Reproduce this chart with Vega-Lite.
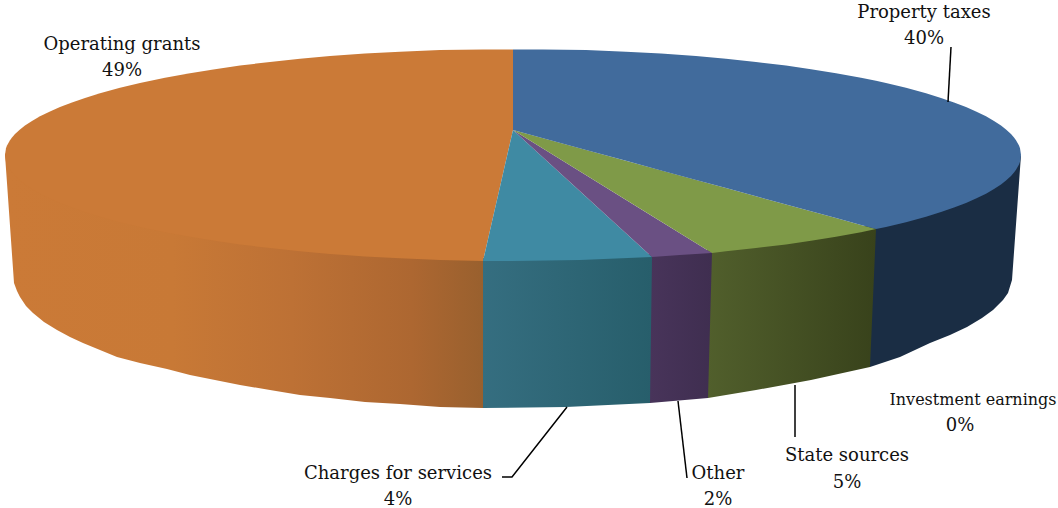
{"$schema":"https://vega.github.io/schema/vega-lite/v6.json","width":1058,"height":508,"padding":0,"autosize":"none","background":"white","config":{"view":{"stroke":null}},
"encoding":{"x":{"field":"x","type":"quantitative","axis":null,"scale":{"domain":[0,1058],"nice":false,"zero":false}},"y":{"field":"y","type":"quantitative","axis":null,"scale":{"domain":[508,0],"nice":false,"zero":false}},"y2":{"field":"y2"}},
"layer":[
{"mark":{"type":"area","orient":"vertical","color":"#1A2D44"},"data":{"values":[{"slice":"Property taxes side","x":870,"y":225,"y2":367},{"x":900,"y":215,"y2":357},{"x":930,"y":205,"y2":343},{"x":950,"y":195,"y2":335},{"x":967,"y":190,"y2":327},{"x":982,"y":185,"y2":318},{"x":993,"y":180,"y2":310},{"x":1003,"y":175,"y2":300},{"x":1008,"y":170,"y2":293},{"x":1012,"y":168,"y2":280},{"x":1021,"y":155,"y2":155}]}},
{"mark":{"type":"area","orient":"vertical","color":{"gradient":"linear","x1":0,"y1":0,"x2":1,"y2":0,"stops":[{"offset":0,"color":"#515F2C"},{"offset":1,"color":"#38421B"}]}},"data":{"values":[{"slice":"State sources side","x":708,"y":250,"y2":398},{"x":756,"y":245,"y2":390},{"x":811,"y":238,"y2":380},{"x":870,"y":225,"y2":367},{"x":876,"y":229,"y2":229}]}},
{"mark":{"type":"area","orient":"vertical","color":{"gradient":"linear","x1":0,"y1":0,"x2":1,"y2":0,"stops":[{"offset":0,"color":"#48345A"},{"offset":1,"color":"#3F2E50"}]}},"data":{"values":[{"slice":"Other side","x":650,"y":254,"y2":403},{"x":708,"y":250,"y2":398},{"x":712,"y":253,"y2":253}]}},
{"mark":{"type":"area","orient":"vertical","color":{"gradient":"linear","x1":0,"y1":0,"x2":1,"y2":0,"stops":[{"offset":0,"color":"#356E80"},{"offset":1,"color":"#275E6B"}]}},"data":{"values":[{"slice":"Charges for services side","x":483,"y":258,"y2":408},{"x":566,"y":257,"y2":407},{"x":650,"y":254,"y2":403},{"x":652,"y":257,"y2":257}]}},
{"mark":{"type":"area","orient":"vertical","color":{"gradient":"linear","x1":0,"y1":0,"x2":1,"y2":0,"stops":[{"offset":0,"color":"#CB7A37"},{"offset":0.35,"color":"#C87936"},{"offset":0.6,"color":"#BD7135"},{"offset":0.85,"color":"#AD6731"},{"offset":1,"color":"#99602E"}]}},"data":{"values":[{"slice":"Operating grants side","x":5,"y":155,"y2":155},{"x":7,"y":150,"y2":183},{"x":14,"y":150,"y2":283},{"x":17,"y":150,"y2":291},{"x":20,"y":150,"y2":297},{"x":26,"y":150,"y2":306},{"x":33,"y":150,"y2":313},{"x":44,"y":150,"y2":322},{"x":57,"y":150,"y2":330},{"x":70,"y":150,"y2":337},{"x":83,"y":150,"y2":343},{"x":100,"y":150,"y2":350},{"x":117,"y":150,"y2":357},{"x":140,"y":150,"y2":363},{"x":167,"y":150,"y2":369},{"x":190,"y":150,"y2":375},{"x":215,"y":150,"y2":380},{"x":240,"y":150,"y2":385},{"x":270,"y":150,"y2":390},{"x":300,"y":150,"y2":395},{"x":330,"y":150,"y2":398},{"x":365,"y":150,"y2":402},{"x":400,"y":150,"y2":404},{"x":440,"y":150,"y2":407},{"x":483,"y":150,"y2":408}]}},
{"mark":{"type":"area","orient":"vertical","color":"#CB7A37"},"data":{"values":[{"slice":"Operating grants","share":49,"x":5,"y":155,"y2":155},{"x":6,"y":148.3,"y2":161.7},{"x":7,"y":145.6,"y2":164.4},{"x":10,"y":140.2,"y2":169.8},{"x":12,"y":137.5,"y2":172.5},{"x":15,"y":134.1,"y2":175.9},{"x":20,"y":129.4,"y2":180.6},{"x":25,"y":125.6,"y2":184.4},{"x":32,"y":120.9,"y2":189.1},{"x":40,"y":116.3,"y2":193.7},{"x":50,"y":111.4,"y2":198.6},{"x":60,"y":107,"y2":203},{"x":72,"y":102.4,"y2":207.6},{"x":85,"y":97.9,"y2":212.1},{"x":100,"y":93.3,"y2":216.7},{"x":120,"y":87.8,"y2":222.2},{"x":140,"y":83,"y2":227},{"x":165,"y":77.8,"y2":232.2},{"x":190,"y":73.2,"y2":236.8},{"x":215,"y":69.2,"y2":240.8},{"x":240,"y":65.6,"y2":244.4},{"x":270,"y":61.9,"y2":248.1},{"x":300,"y":58.8,"y2":251.2},{"x":330,"y":56.1,"y2":253.9},{"x":365,"y":53.6,"y2":256.4},{"x":400,"y":51.7,"y2":258.3},{"x":440,"y":50.1,"y2":259.9},{"x":483,"y":49.5,"y2":261},{"x":513,"y":49.5,"y2":130}]}},
{"mark":{"type":"area","orient":"vertical","color":"#3F8AA3"},"data":{"values":[{"slice":"Charges for services","share":4,"x":483,"y":261,"y2":261},{"x":513,"y":130,"y2":261},{"x":580,"y":191.2,"y2":260},{"x":652,"y":257,"y2":257}]}},
{"mark":{"type":"area","orient":"vertical","color":"#6A5083"},"data":{"values":[{"slice":"Other","share":2,"x":513,"y":130,"y2":130},{"x":652,"y":215.9,"y2":257},{"x":680,"y":233.2,"y2":255},{"x":712,"y":253,"y2":253}]}},
{"mark":{"type":"area","orient":"vertical","color":"#7F9A48"},"data":{"values":[{"slice":"State sources","share":5,"x":513,"y":130,"y2":130},{"x":712,"y":184.3,"y2":253},{"x":726,"y":188.1,"y2":251.2},{"x":756,"y":196.3,"y2":248.1},{"x":786,"y":204.4,"y2":244.4},{"x":811,"y":211.3,"y2":240.8},{"x":836,"y":218.1,"y2":236.8},{"x":861,"y":224.9,"y2":232.2},{"x":876,"y":229,"y2":229}]}},
{"mark":{"type":"area","orient":"vertical","color":"#416B9C"},"data":{"values":[{"slice":"Property taxes","share":40,"x":513,"y":49.5,"y2":130},{"x":543,"y":49.5,"y2":138.2},{"x":586,"y":50.1,"y2":149.9},{"x":626,"y":51.7,"y2":160.8},{"x":661,"y":53.6,"y2":170.4},{"x":696,"y":56.1,"y2":179.9},{"x":726,"y":58.8,"y2":188.1},{"x":756,"y":61.9,"y2":196.3},{"x":786,"y":65.6,"y2":204.4},{"x":811,"y":69.2,"y2":211.3},{"x":836,"y":73.2,"y2":218.1},{"x":861,"y":77.8,"y2":224.9},{"x":876,"y":80.8,"y2":229},{"x":886,"y":83,"y2":227},{"x":906,"y":87.8,"y2":222.2},{"x":926,"y":93.3,"y2":216.7},{"x":941,"y":97.9,"y2":212.1},{"x":954,"y":102.4,"y2":207.6},{"x":966,"y":107,"y2":203},{"x":976,"y":111.4,"y2":198.6},{"x":986,"y":116.3,"y2":193.7},{"x":994,"y":120.9,"y2":189.1},{"x":1001,"y":125.6,"y2":184.4},{"x":1006,"y":129.4,"y2":180.6},{"x":1011,"y":134.1,"y2":175.9},{"x":1014,"y":137.5,"y2":172.5},{"x":1016,"y":140.2,"y2":169.8},{"x":1019,"y":145.6,"y2":164.4},{"x":1020,"y":148.3,"y2":161.7},{"x":1021,"y":155,"y2":155}]}},
{"mark":{"type":"line","color":"#000000","strokeWidth":1.5,"interpolate":"linear"},"encoding":{"detail":{"field":"leader"},"order":{"field":"step"},"y2":null},"data":{"values":[{"leader":"Property taxes","step":0,"x":951,"y":47},{"leader":"Property taxes","step":1,"x":948,"y":102},{"leader":"State sources","step":0,"x":795,"y":385},{"leader":"State sources","step":1,"x":795,"y":437},{"leader":"Other","step":0,"x":678,"y":401},{"leader":"Other","step":1,"x":687,"y":478},{"leader":"Charges for services","step":0,"x":502,"y":477},{"leader":"Charges for services","step":1,"x":512,"y":477},{"leader":"Charges for services","step":2,"x":567,"y":407}]}},
{"mark":{"type":"text","font":"DejaVu Serif","fontSize":18,"color":"#111111","baseline":"alphabetic","align":"center"},"encoding":{"text":{"field":"label"},"y2":null},"data":{"values":[{"label":"Property taxes","x":924,"y":18},{"label":"40%","x":924,"y":44},{"label":"Operating grants","x":122,"y":50},{"label":"49%","x":122,"y":76},{"label":"0%","x":960,"y":431},{"label":"State sources","x":847,"y":461},{"label":"5%","x":847,"y":488},{"label":"Other","x":718,"y":479},{"label":"2%","x":718,"y":505},{"label":"Charges for services","x":398,"y":479},{"label":"4%","x":398,"y":505}]}},
{"mark":{"type":"text","font":"DejaVu Serif","fontSize":16,"color":"#111111","baseline":"alphabetic","align":"center"},"encoding":{"text":{"field":"label"},"y2":null},"data":{"values":[{"label":"Investment earnings","x":973,"y":405}]}}
]}
